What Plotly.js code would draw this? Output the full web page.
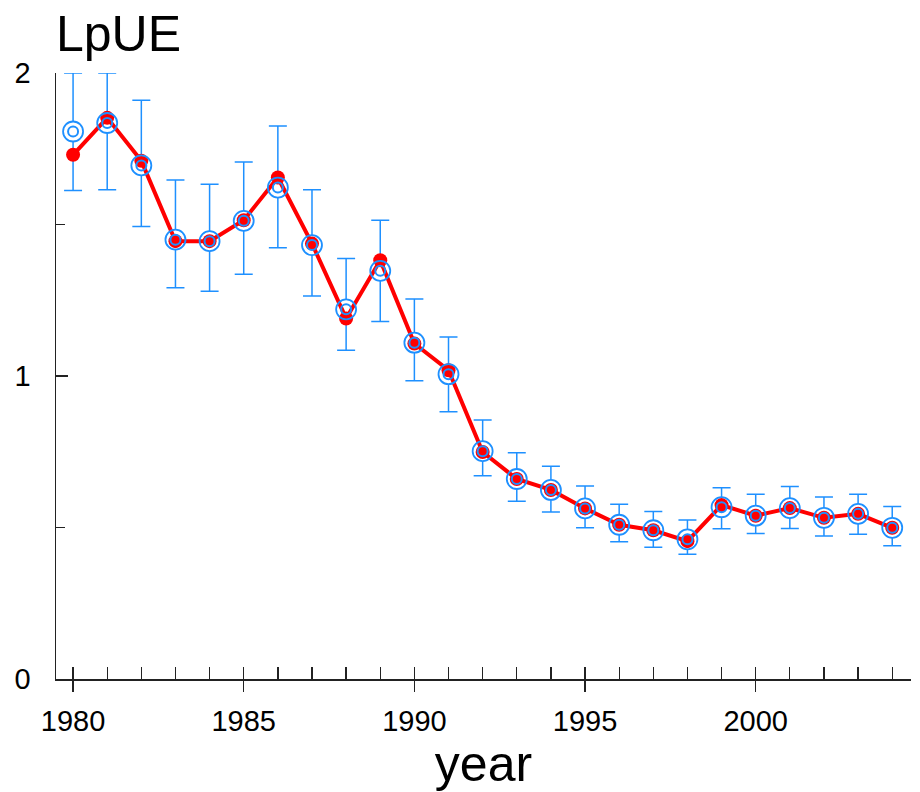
<!DOCTYPE html>
<html>
<head>
<meta charset="utf-8">
<script src="https://cdn.plot.ly/plotly-3.0.1.min.js"></script>
<style>html,body{margin:0;padding:0;background:#fff;}#chart{width:920px;height:792px;}</style>
</head>
<body>
<div id="chart"></div>
<script>
const years = [1980,1981,1982,1983,1984,1985,1986,1987,1988,1989,1990,1991,1992,1993,1994,1995,1996,1997,1998,1999,2000,2001,2002,2003,2004];
// fitted (red line)
const lpueFit = [1.730,1.852,1.710,1.445,1.445,1.514,1.655,1.437,1.190,1.382,1.107,1.019,0.749,0.660,0.624,0.563,0.509,0.491,0.455,0.574,0.539,0.564,0.532,0.545,0.499];
// observed (blue circles)
const lpueObs = [1.807,1.835,1.695,1.450,1.445,1.512,1.622,1.432,1.220,1.347,1.110,1.006,0.752,0.660,0.624,0.563,0.509,0.491,0.461,0.567,0.539,0.564,0.532,0.545,0.499];
const ciUpper = [2.000,2.000,1.910,1.647,1.633,1.706,1.825,1.615,1.388,1.514,1.254,1.129,0.855,0.747,0.702,0.637,0.577,0.553,0.525,0.631,0.610,0.635,0.601,0.610,0.569];
const ciLower = [1.612,1.615,1.493,1.291,1.280,1.336,1.423,1.264,1.085,1.180,0.984,0.882,0.671,0.587,0.551,0.499,0.453,0.435,0.412,0.496,0.480,0.497,0.472,0.478,0.440];
const yTickVals = [0,1,2];
const yTickText = ['0','1','2'];

const blue = '#1e90ff';
const red = '#ff0000';
const axisColor = '#222';
const errPlus = ciUpper.map((u,i)=>u-lpueObs[i]);
const errMinus = lpueObs.map((v,i)=>v-ciLower[i]);

const traces = [
  {x: years, y: lpueObs, type:'scatter', mode:'markers',
   marker:{symbol:'circle', size:20, color:'#ffffff', line:{width:0}},
   error_y:{type:'data', symmetric:false, array:errPlus, arrayminus:errMinus, color:blue, thickness:1.5, width:9},
   hoverinfo:'skip', showlegend:false},
  {x: years, y: lpueFit, type:'scatter', mode:'lines+markers',
   line:{color:red, width:4}, marker:{symbol:'circle', size:14, color:red}, showlegend:false},
  {x: years, y: lpueObs, type:'scatter', mode:'markers',
   marker:{symbol:'circle-open', size:20, color:blue, line:{width:1.8, color:blue}}, showlegend:false},
  {x: years, y: lpueObs, type:'scatter', mode:'markers', xaxis:'x2',
   marker:{symbol:'circle-open', size:10, color:blue, line:{width:2, color:blue}}, showlegend:false}
];

const font = {family:'"Liberation Sans", Arial, sans-serif', color:'#000'};
const layout = {
  width:920, height:792,
  margin:{l:56, r:9, t:73, b:113},
  paper_bgcolor:'#fff', plot_bgcolor:'#fff',
  font: font,
  showlegend:false,
  title:{text:'LpUE', font:{family:font.family, size:50, color:'#000'}, xref:'paper', x:0, xanchor:'left', yref:'container', y:0.958, yanchor:'middle'},
  xaxis:{
    range:[1979.5, 2004.55], tickmode:'linear', tick0:1980, dtick:5,
    ticks:'inside', ticklen:12, tickwidth:1.3, tickcolor:axisColor,
    minor:{dtick:1, tick0:1980, ticks:'inside', ticklen:12, tickwidth:1.3, tickcolor:axisColor},
    showline:true, linecolor:axisColor, linewidth:1.5,
    showgrid:false, zeroline:false,
    tickfont:{family:font.family, size:29, color:'#000'},
    ticklabelstandoff:16,
    title:{text:'year', font:{family:font.family, size:50, color:'#000'}, standoff:2},
    automargin:false
  },
  xaxis2:{
    overlaying:'x', anchor:'y', side:'bottom',
    range:[1979.5, 2004.55], tickmode:'linear', tick0:1980, dtick:5,
    ticks:'outside', ticklen:12, tickwidth:1.3, tickcolor:axisColor,
    showticklabels:false, showline:false, showgrid:false, zeroline:false, automargin:false
  },
  yaxis:{
    range:[0,2], tickmode:'array', tickvals:yTickVals, ticktext:yTickText,
    ticks:'inside', ticklen:12, tickwidth:1.3, tickcolor:axisColor,
    minor:{dtick:0.5, ticks:'inside', ticklen:9, tickwidth:1.3, tickcolor:axisColor},
    showline:true, linecolor:axisColor, linewidth:1.5,
    showgrid:false, zeroline:false,
    tickfont:{family:font.family, size:29, color:'#000'},
    ticklabelstandoff:18,
    automargin:false
  }
};
Plotly.newPlot('chart', traces, layout, {staticPlot:true, displayModeBar:false});
</script>
</body>
</html>
